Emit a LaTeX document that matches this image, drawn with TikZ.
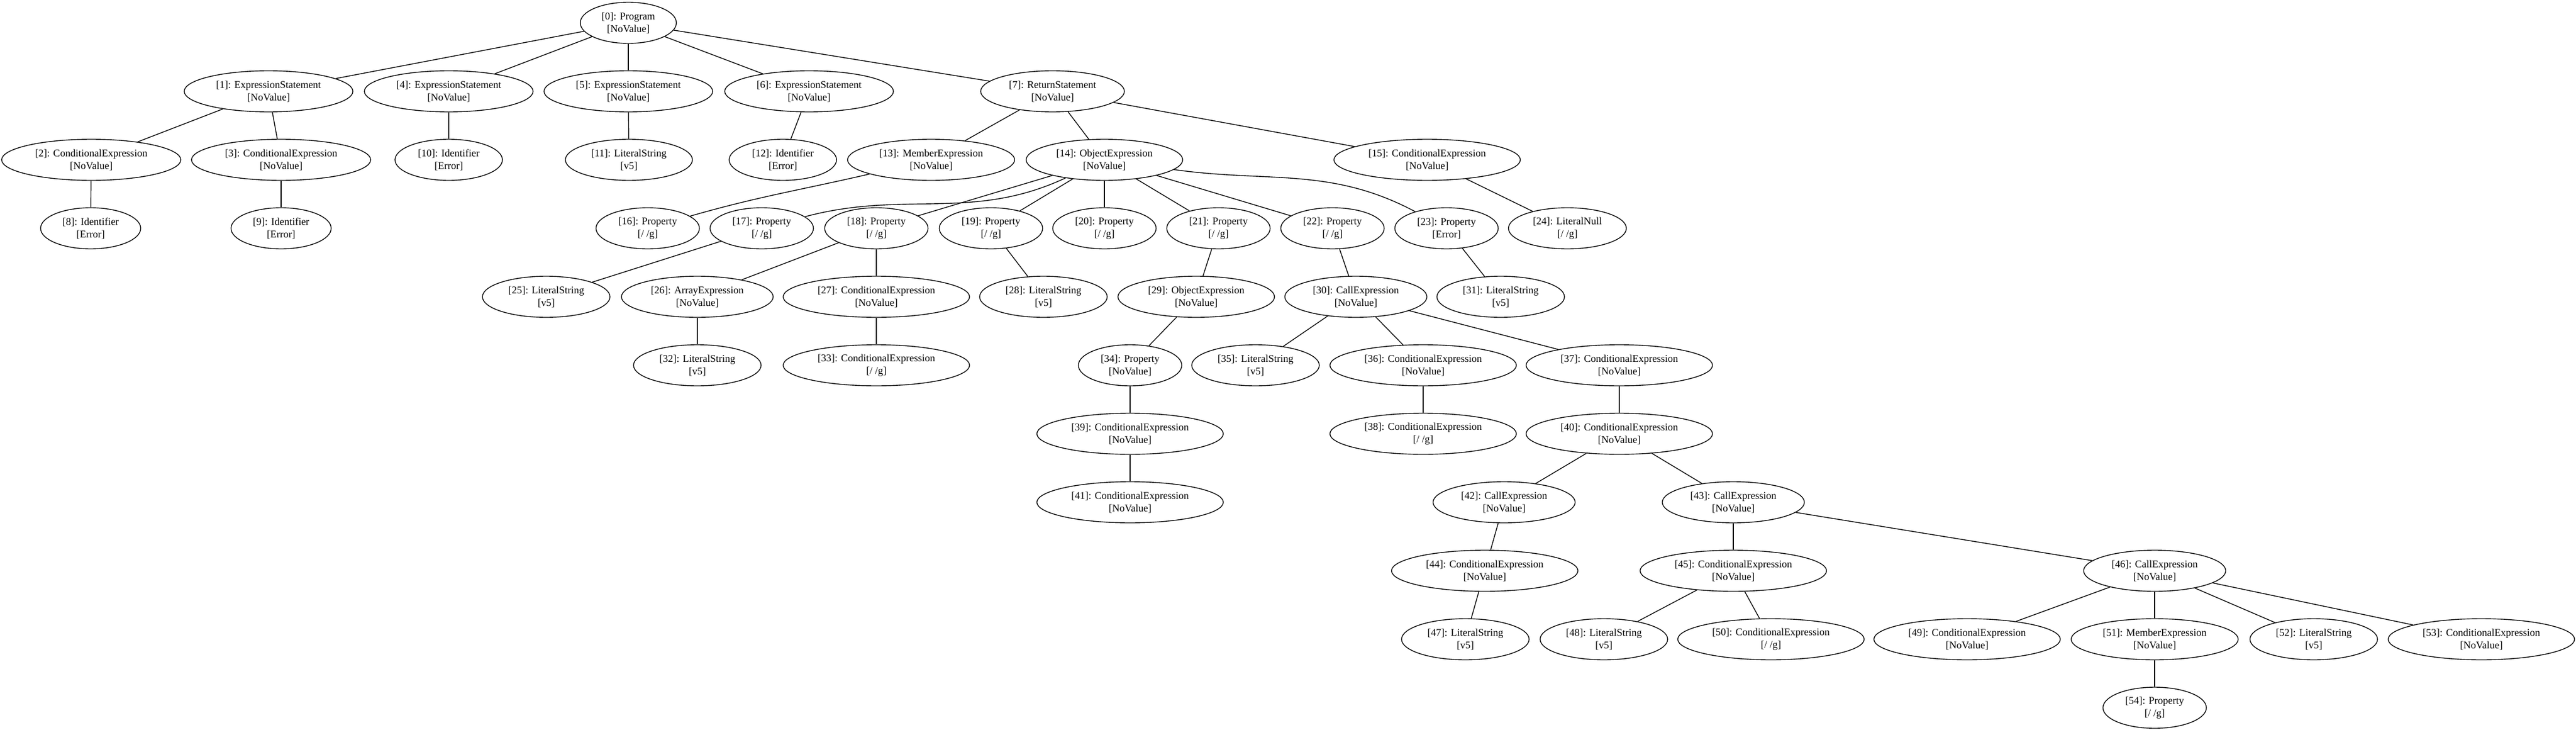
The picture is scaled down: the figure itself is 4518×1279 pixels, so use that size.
\documentclass[tikz,border=0pt]{standalone}
\usepackage{fontspec}
\setmainfont{Liberation Serif}
\usetikzlibrary{shapes.geometric}

\tikzset{
  astnode/.style={draw, ellipse, line width=0.7pt, align=center,
    font=\fontsize{9pt}{11pt}\selectfont,
    inner xsep=6.3pt, inner ysep=2pt, minimum height=36pt, minimum width=54pt},
  astedge/.style={line width=0.7pt}
}

\begin{document}
\begin{tikzpicture}[x=0.5pt,y=-0.5pt]
\useasboundingbox (0,0) rectangle (4518,1279);
% rank 0 and 1
\node [astnode] (n0) at (1102,40) {[0]: Program\\{[NoValue]}};
\node [astnode] (n1) at (471,160) {[1]: ExpressionStatement\\{[NoValue]}};
\node [astnode] (n4) at (787,160) {[4]: ExpressionStatement\\{[NoValue]}};
\node [astnode] (n5) at (1102,160) {[5]: ExpressionStatement\\{[NoValue]}};
\node [astnode] (n6) at (1419,160) {[6]: ExpressionStatement\\{[NoValue]}};
\node [astnode] (n7) at (1846,160) {[7]: ReturnStatement\\{[NoValue]}};
% rank 2
\node [astnode] (n2) at (160,280) {[2]: ConditionalExpression\\{[NoValue]}};
\node [astnode] (n3) at (493,280) {[3]: ConditionalExpression\\{[NoValue]}};
\node [astnode] (n10) at (787,280) {[10]: Identifier\\{[Error]}};
\node [astnode] (n11) at (1103,280) {[11]: LiteralString\\{[v5]}};
\node [astnode] (n12) at (1373,280) {[12]: Identifier\\{[Error]}};
\node [astnode] (n13) at (1633,280) {[13]: MemberExpression\\{[NoValue]}};
\node [astnode] (n14) at (1937,280) {[14]: ObjectExpression\\{[NoValue]}};
\node [astnode] (n15) at (2503,280) {[15]: ConditionalExpression\\{[NoValue]}};
% rank 3
\node [astnode] (n8) at (159,400) {[8]: Identifier\\{[Error]}};
\node [astnode] (n9) at (493,400) {[9]: Identifier\\{[Error]}};
\node [astnode] (n16) at (1136,400) {[16]: Property\\{[/ /g]}};
\node [astnode] (n17) at (1336,400) {[17]: Property\\{[/ /g]}};
\node [astnode] (n18) at (1537,400) {[18]: Property\\{[/ /g]}};
\node [astnode] (n19) at (1738,400) {[19]: Property\\{[/ /g]}};
\node [astnode] (n20) at (1937,400) {[20]: Property\\{[/ /g]}};
\node [astnode] (n21) at (2137,400) {[21]: Property\\{[/ /g]}};
\node [astnode] (n22) at (2337,400) {[22]: Property\\{[/ /g]}};
\node [astnode] (n23) at (2537,400) {[23]: Property\\{[Error]}};
\node [astnode] (n24) at (2749,400) {[24]: LiteralNull\\{[/ /g]}};
% rank 4
\node [astnode] (n25) at (958,520) {[25]: LiteralString\\{[v5]}};
\node [astnode] (n26) at (1223,520) {[26]: ArrayExpression\\{[NoValue]}};
\node [astnode] (n27) at (1537,520) {[27]: ConditionalExpression\\{[NoValue]}};
\node [astnode] (n28) at (1830,520) {[28]: LiteralString\\{[v5]}};
\node [astnode] (n29) at (2098,520) {[29]: ObjectExpression\\{[NoValue]}};
\node [astnode] (n30) at (2378,520) {[30]: CallExpression\\{[NoValue]}};
\node [astnode] (n31) at (2632,520) {[31]: LiteralString\\{[v5]}};
% rank 5
\node [astnode] (n32) at (1223,640) {[32]: LiteralString\\{[v5]}};
\node [astnode] (n33) at (1537,640) {[33]: ConditionalExpression\\{[/ /g]}};
\node [astnode] (n34) at (1982,640) {[34]: Property\\{[NoValue]}};
\node [astnode] (n35) at (2202,640) {[35]: LiteralString\\{[v5]}};
\node [astnode] (n36) at (2496,640) {[36]: ConditionalExpression\\{[NoValue]}};
\node [astnode] (n37) at (2840,640) {[37]: ConditionalExpression\\{[NoValue]}};
% rank 6 and 7
\node [astnode] (n39) at (1982,760) {[39]: ConditionalExpression\\{[NoValue]}};
\node [astnode] (n38) at (2496,760) {[38]: ConditionalExpression\\{[/ /g]}};
\node [astnode] (n40) at (2840,760) {[40]: ConditionalExpression\\{[NoValue]}};
\node [astnode] (n41) at (1982,880) {[41]: ConditionalExpression\\{[NoValue]}};
\node [astnode] (n42) at (2638,880) {[42]: CallExpression\\{[NoValue]}};
\node [astnode] (n43) at (3040,880) {[43]: CallExpression\\{[NoValue]}};
% rank 8 to 10
\node [astnode] (n44) at (2604,1000) {[44]: ConditionalExpression\\{[NoValue]}};
\node [astnode] (n45) at (3040,1000) {[45]: ConditionalExpression\\{[NoValue]}};
\node [astnode] (n46) at (3779,1000) {[46]: CallExpression\\{[NoValue]}};
\node [astnode] (n47) at (2570,1120) {[47]: LiteralString\\{[v5]}};
\node [astnode] (n48) at (2813,1120) {[48]: LiteralString\\{[v5]}};
\node [astnode] (n50) at (3106,1120) {[50]: ConditionalExpression\\{[/ /g]}};
\node [astnode] (n49) at (3450,1120) {[49]: ConditionalExpression\\{[NoValue]}};
\node [astnode] (n51) at (3779,1120) {[51]: MemberExpression\\{[NoValue]}};
\node [astnode] (n52) at (4058,1120) {[52]: LiteralString\\{[v5]}};
\node [astnode] (n53) at (4352,1120) {[53]: ConditionalExpression\\{[NoValue]}};
\node [astnode] (n54) at (3779,1240) {[54]: Property\\{[/ /g]}};
% edges
\foreach \a/\b in {0/1,0/4,0/5,0/6,0/7,1/2,1/3,2/8,3/9,4/10,5/11,6/12,
  7/13,7/14,7/15,14/18,14/19,14/20,14/21,14/22,15/24,17/25,18/26,18/27,
  19/28,21/29,22/30,23/31,26/32,27/33,29/34,30/35,30/36,30/37,34/39,
  36/38,37/40,39/41,40/42,40/43,42/44,43/45,43/46,44/47,45/48,45/50,
  46/49,46/51,46/52,46/53,51/54}
  \draw [astedge] (n\a) -- (n\b);
\draw [astedge] (n13) to[out=193,in=16] (n16);
\draw [astedge] (n14) to[out=205,in=15] (n17);
\draw [astedge] (n14) to[out=-8,in=152] (n23);
\end{tikzpicture}
\end{document}
